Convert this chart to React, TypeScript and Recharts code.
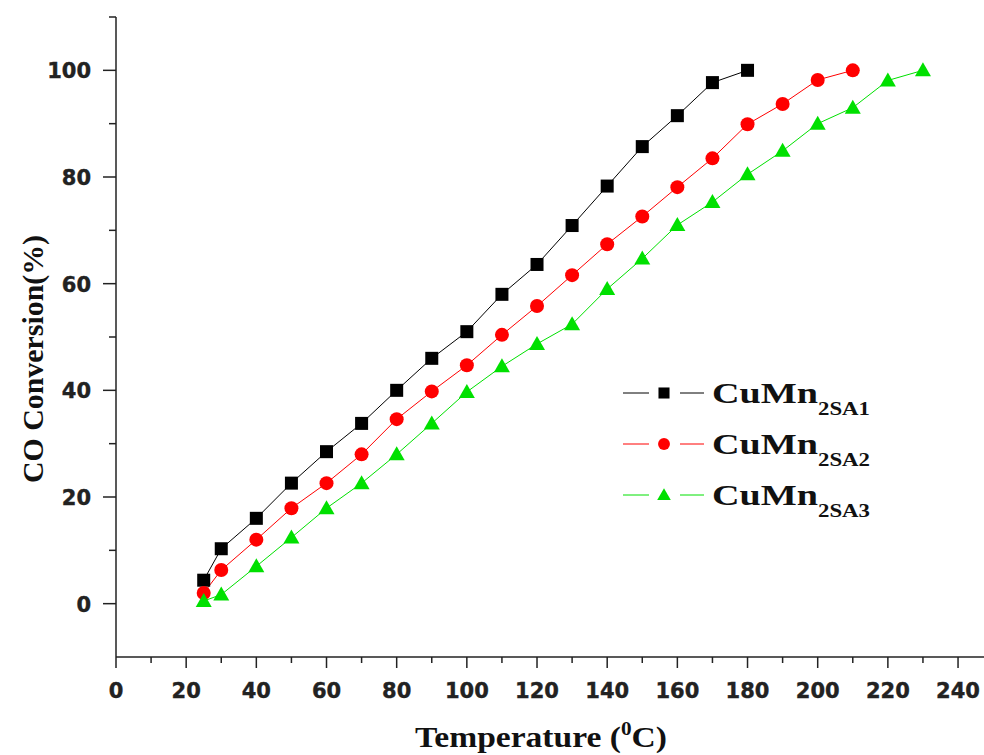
import React from "react";
import { LineChart, Line, XAxis, YAxis, Legend } from "recharts";

// temperatures (°C) and CO conversion (%)
const temps1 = [25, 30, 40, 50, 60, 70, 80, 90, 100, 110, 120, 130, 140, 150, 160, 170, 180];
const conv1 = [4.4, 10.3, 16, 22.6, 28.5, 33.8, 40, 46, 51, 58, 63.6, 70.9, 78.3, 85.7, 91.5, 97.7, 100];

const temps2 = [25, 30, 40, 50, 60, 70, 80, 90, 100, 110, 120, 130, 140, 150, 160, 170, 180, 190, 200, 210];
const conv2 = [2, 6.3, 12, 17.9, 22.6, 28, 34.6, 39.8, 44.7, 50.4, 55.8, 61.6, 67.4, 72.6, 78.1, 83.5, 89.9, 93.7, 98.2, 100];

const temps3 = [25, 30, 40, 50, 60, 70, 80, 90, 100, 110, 120, 130, 140, 150, 160, 170, 180, 190, 200, 210, 220, 230];
const conv3 = [0.5, 1.7, 7, 12.4, 17.9, 22.6, 28, 33.8, 39.7, 44.5, 48.7, 52.4, 59, 64.7, 71, 75.3, 80.5, 84.9, 90, 93, 98.1, 100];

const xTicks = [0, 10, 20, 30, 40, 50, 60, 70, 80, 90, 100, 110, 120, 130, 140, 150, 160, 170, 180, 190, 200, 210, 220, 230, 240];
const yTicks = [-10, 0, 10, 20, 30, 40, 50, 60, 70, 80, 90, 100, 110];

const toPoints = (xs: number[], ys: number[]) => xs.map((t, i) => ({ t, v: ys[i] }));

const series = [
  { name: "CuMn", sub: "2SA1", data: toPoints(temps1, conv1), color: "#000000", shape: "square" },
  { name: "CuMn", sub: "2SA2", data: toPoints(temps2, conv2), color: "#ff0000", shape: "circle" },
  { name: "CuMn", sub: "2SA3", data: toPoints(temps3, conv3), color: "#00e000", shape: "triangle" },
];

const tickFont = {
  fontFamily: "'DejaVu Sans', sans-serif",
  fontWeight: 700,
  fontSize: 21,
  fill: "#222",
  stroke: "#222",
  strokeWidth: 0.4,
};
const serif = "'Liberation Serif', 'Times New Roman', serif";

function Marker({ shape, cx, cy, color, s = 1 }: any) {
  if (shape === "square") {
    const h = 6.5 * s;
    return <rect x={cx - h} y={cy - h} width={2 * h} height={2 * h} fill={color} />;
  }
  if (shape === "circle") {
    return <circle cx={cx} cy={cy} r={7 * s} fill={color} />;
  }
  const w = 8 * s;
  return (
    <polygon
      points={`${cx},${cy - 8 * s} ${cx - w},${cy + 6 * s} ${cx + w},${cy + 6 * s}`}
      fill={color}
    />
  );
}

const makeDot = (shape: string, color: string) => (props: any) => {
  const { cx, cy, index } = props;
  return <Marker key={index} shape={shape} cx={cx} cy={cy} color={color} />;
};

function XTick({ x, y, payload }: any) {
  const major = payload.value % 20 === 0;
  return (
    <g>
      <line x1={x} x2={x} y1={y} y2={y + (major ? 11 : 6)} stroke="#222" strokeWidth={1.5} />
      {major && (
        <text x={x} y={y + 41} textAnchor="middle" {...tickFont}>
          {payload.value}
        </text>
      )}
    </g>
  );
}

function YTick({ x, y, payload }: any) {
  const v = payload.value;
  if (v < 0) return <g />;
  const major = v % 20 === 0 && v <= 100;
  return (
    <g>
      <line x1={x - (major ? 13 : 7)} x2={x} y1={y} y2={y} stroke="#222" strokeWidth={1.5} />
      {major && (
        <text x={x - 25} y={y + 8} textAnchor="end" {...tickFont}>
          {v}
        </text>
      )}
    </g>
  );
}

function LegendBox() {
  return (
    <svg width={300} height={170}>
      {series.map((s, i) => {
        const cy = 33 + i * 51;
        return (
          <g key={s.sub}>
            <line x1={23} x2={49} y1={cy} y2={cy} stroke={s.color} strokeWidth={1} />
            <line x1={80} x2={104} y1={cy} y2={cy} stroke={s.color} strokeWidth={1} />
            <Marker shape={s.shape} cx={64} cy={cy} color={s.color} s={0.85} />
            <text x={112} y={cy + 10} fontFamily={serif} fontWeight={700} fontSize={30} fill="#111"
              textLength={106} lengthAdjust="spacingAndGlyphs">
              {s.name}
            </text>
            <text x={218} y={cy + 22} fontFamily={serif} fontWeight={700} fontSize={19} fill="#111"
              textLength={52} lengthAdjust="spacingAndGlyphs">
              {s.sub}
            </text>
          </g>
        );
      })}
    </svg>
  );
}

export default function App() {
  return (
    <div style={{ position: "absolute", left: 0, top: 0, background: "#fff" }}>
      <LineChart width={984} height={755} margin={{ top: 17, right: 0, bottom: 0, left: 0 }}>
        <XAxis
          type="number"
          dataKey="t"
          domain={[0, 247.4]}
          ticks={xTicks}
          interval={0}
          allowDataOverflow
          height={98}
          tickSize={0}
          tickMargin={0}
          tickLine={false}
          axisLine={{ stroke: "#222", strokeWidth: 1.5 }}
          tick={<XTick />}
          label={{
            content: () => (
              <text x={541} y={747} textAnchor="middle" fontFamily={serif} fontWeight={700}
                fontSize={30} fill="#111" textLength={252} lengthAdjust="spacingAndGlyphs">
                Temperature (<tspan dy={-12} fontSize={19}>0</tspan>
                <tspan dy={12} fontSize={30}>C)</tspan>
              </text>
            ),
          }}
        />
        <YAxis
          type="number"
          dataKey="v"
          domain={[-10, 110]}
          ticks={yTicks}
          interval={0}
          allowDataOverflow
          width={116}
          tickSize={0}
          tickMargin={0}
          tickLine={false}
          axisLine={{ stroke: "#222", strokeWidth: 1.5 }}
          tick={<YTick />}
          label={{
            content: () => (
              <text x={43} y={359} transform="rotate(-90, 43, 359)" textAnchor="middle"
                fontFamily={serif} fontWeight={700} fontSize={29} fill="#111"
                textLength={248} lengthAdjust="spacingAndGlyphs">
                CO Conversion(%)
              </text>
            ),
          }}
        />
        {series.map((s) => (
          <Line
            key={s.sub}
            data={s.data}
            dataKey="v"
            name={s.name + s.sub}
            type="linear"
            stroke={s.color}
            strokeWidth={1}
            dot={makeDot(s.shape, s.color)}
            activeDot={false}
            isAnimationActive={false}
          />
        ))}
        <Legend
          layout="vertical"
          align="center"
          verticalAlign="middle"
          content={() => <LegendBox />}
          wrapperStyle={{ position: "absolute", left: 600, top: 360, width: 300, height: 170 }}
        />
      </LineChart>
    </div>
  );
}
